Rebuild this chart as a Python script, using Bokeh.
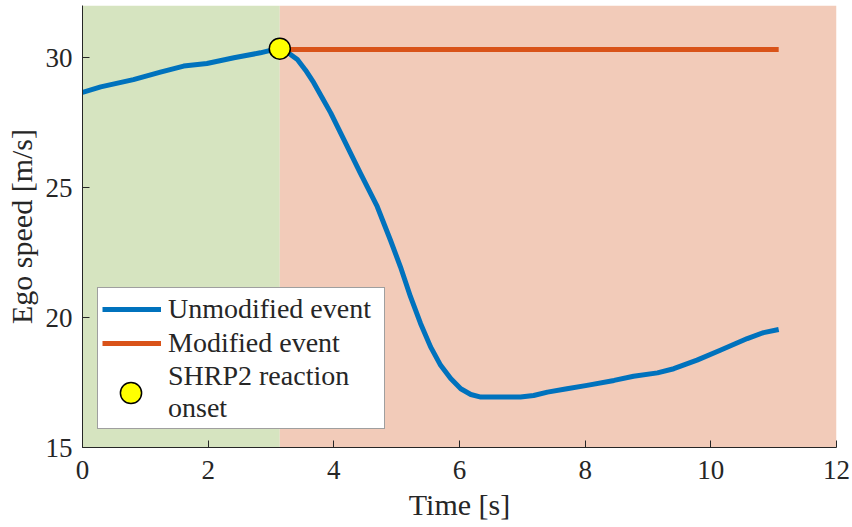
from bokeh.plotting import figure
from bokeh.models import BoxAnnotation, Legend, LegendItem, Range1d, FixedTicker
from bokeh.embed import file_html
from bokeh.resources import INLINE

# ---- data ----
t_unmod = [0.0, 0.29, 0.81, 1.24, 1.61, 1.98, 2.41, 2.83, 3.12, 3.31, 3.42, 3.55, 3.68,
           3.81, 3.95, 4.16, 4.42, 4.69, 4.90, 5.06, 5.22, 5.38, 5.54, 5.70, 5.86, 6.02,
           6.18, 6.34, 6.60, 6.97, 7.18, 7.40, 7.71, 8.03, 8.46, 8.77, 9.15, 9.41, 9.78,
           10.15, 10.58, 10.84, 11.08]
v_unmod = [28.66, 28.87, 29.15, 29.44, 29.67, 29.77, 29.99, 30.18, 30.35, 30.12, 29.92,
           29.51, 29.03, 28.47, 27.87, 26.84, 25.56, 24.27, 22.98, 21.95, 20.80, 19.77,
           18.87, 18.16, 17.65, 17.26, 17.04, 16.94, 16.94, 16.94, 17.00, 17.13, 17.26,
           17.39, 17.58, 17.74, 17.87, 18.03, 18.36, 18.74, 19.19, 19.42, 19.54]
t_mod = [3.14, 11.08]
v_mod = [30.31, 30.31]
onset_t = [3.14]
onset_v = [30.34]
phase_edges = [0.0, 3.14, 12.0]
x_ticks = [0, 2, 4, 6, 8, 10, 12]
y_ticks = [15, 20, 25, 30]

FONT = "Liberation Serif"
AX = "#262626"

p = figure(width=850, height=525, output_backend="svg", toolbar_location=None,
           x_range=Range1d(0, 12), y_range=Range1d(15, 32),
           min_border_left=82, min_border_right=14, min_border_top=5, min_border_bottom=78)
p.outline_line_color = None
p.grid.visible = False
p.background_fill_color = "white"
p.border_fill_color = "white"

p.add_layout(BoxAnnotation(left=phase_edges[0], right=phase_edges[1], fill_color="#D6E4C0",
                           fill_alpha=1, line_color=None, level="underlay"))
p.add_layout(BoxAnnotation(left=phase_edges[1], right=phase_edges[2], fill_color="#F2CBB9",
                           fill_alpha=1, line_color=None, level="underlay"))

r1 = p.line(t_unmod, v_unmod, line_color="#0072BD", line_width=5, line_join="round")
r2 = p.line(t_mod, v_mod, line_color="#D95319", line_width=5)
r3 = p.scatter(onset_t, onset_v, size=21, fill_color="#FFFF00", line_color="black", line_width=1.5)

for ax in (p.xaxis[0], p.yaxis[0]):
    ax.axis_line_color = AX
    ax.major_tick_line_color = AX
    ax.major_tick_in = 7
    ax.major_tick_out = 0
    ax.minor_tick_line_color = None
    ax.major_label_text_font = FONT
    ax.major_label_text_font_size = "27px"
    ax.major_label_text_color = AX
    ax.axis_label_text_font = FONT
    ax.axis_label_text_font_size = "30px"
    ax.axis_label_text_font_style = "normal"
    ax.axis_label_text_color = AX

p.xaxis[0].ticker = FixedTicker(ticks=x_ticks)
p.yaxis[0].ticker = FixedTicker(ticks=y_ticks)
p.xaxis[0].axis_label = "Time [s]"
p.yaxis[0].axis_label = "Ego speed [m/s]"
p.xaxis[0].major_label_standoff = 13
p.yaxis[0].major_label_standoff = 10
p.xaxis[0].axis_label_standoff = 6
p.yaxis[0].axis_label_standoff = 5

legend = Legend(items=[LegendItem(label="Unmodified event", renderers=[r1]),
                       LegendItem(label="Modified event", renderers=[r2]),
                       LegendItem(label="SHRP2 reaction\nonset", renderers=[r3])],
                location=(15, 18), padding=4, margin=0, spacing=0,
                glyph_width=59, glyph_height=34, label_height=34, label_width=212,
                label_standoff=7, label_text_font=FONT, label_text_font_size="28px",
                label_text_color=AX, border_line_color="#404040", border_line_width=1,
                background_fill_color="white", background_fill_alpha=1)
p.add_layout(legend)

# larger legend marker overlay (legend markers are auto-scaled to glyph box)
legend_mk = Legend(items=[LegendItem(label=" ", renderers=[r3])],
                   location=(22, 28), padding=0, margin=0, spacing=0,
                   glyph_width=53, glyph_height=53, label_height=1, label_width=1,
                   label_standoff=0, label_text_font_size="1px",
                   border_line_color=None, background_fill_alpha=0)
p.add_layout(legend_mk)

open("out.html", "w").write(file_html(p, INLINE))
